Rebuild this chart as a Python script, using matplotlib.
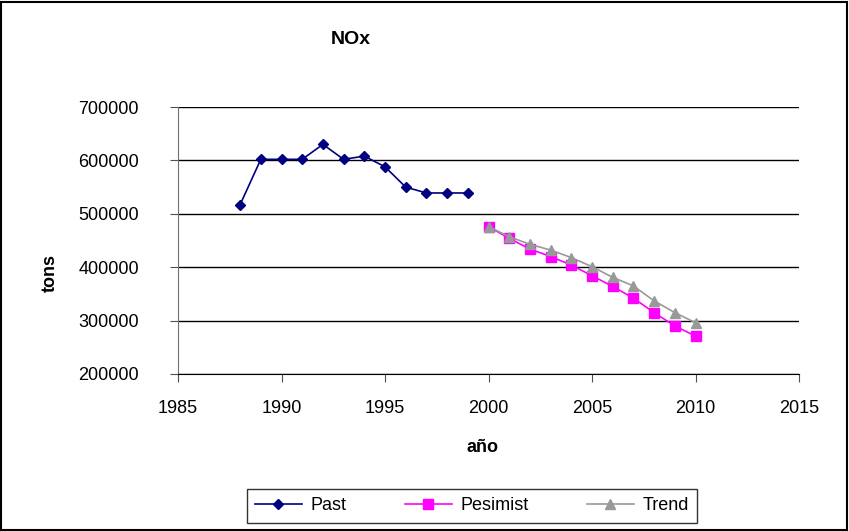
import matplotlib
matplotlib.use("Agg")
import matplotlib.pyplot as plt
from matplotlib.patches import Rectangle

plt.rcParams["font.family"] = ["Liberation Sans", "DejaVu Sans"]

# NOx emissions, historical and projected (tons)
past_years = [1988, 1989, 1990, 1991, 1992, 1993, 1994, 1995, 1996, 1997, 1998, 1999]
past_tons = [517000, 602000, 602000, 602000, 630000, 602000, 608000, 588000,
             550000, 539000, 539000, 539000]

proj_years = [2000, 2001, 2002, 2003, 2004, 2005, 2006, 2007, 2008, 2009, 2010]
pesimist_tons = [476000, 454000, 434000, 420000, 404000, 384000, 364000,
                 342000, 315000, 290000, 271000]
trend_tons = [476000, 457000, 443000, 432000, 418000, 401000, 381000,
              365000, 337000, 315000, 296000]

fig = plt.figure(figsize=(8.49, 5.31), dpi=100)
W, H = 849, 531
ax = fig.add_axes([178 / W, 1 - 374 / H, (799 - 178) / W, (374 - 107) / H])

ax.plot(past_years, past_tons, color="#000080", lw=1.2, marker="D", ms=5.5,
        label="Past")
ax.plot(proj_years, pesimist_tons, color="#FF00FF", lw=1.2, marker="s", ms=7,
        label="Pesimist")
ax.plot(proj_years, trend_tons, color="#999999", lw=1.2, marker="^", ms=7.5,
        label="Trend")

ax.set_xlim(1985, 2015)
ax.set_ylim(200000, 700000)
ax.set_xticks(range(1985, 2016, 5))
ax.set_yticks(range(200000, 700001, 100000))
ax.yaxis.grid(True, color="black", lw=1)
ax.set_axisbelow(True)
for side in ("top", "right"):
    ax.spines[side].set_visible(False)
ax.spines["left"].set_color("#707070")
ax.spines["bottom"].set_color("black")
ax.tick_params(direction="out", length=6, labelsize=13, color="#505050")
ax.tick_params(axis="y", pad=22)
ax.tick_params(axis="x", pad=13)

fig.text(351 / W, 1 - 40 / H, "NOx", fontsize=14, fontweight="bold",
         ha="center", va="center")
fig.text(50 / W, 1 - 273 / H, "tons", fontsize=13, fontweight="bold",
         ha="center", va="center", rotation=90)
fig.text(482 / W, 1 - 447 / H, "año", fontsize=13, fontweight="bold",
         ha="center", va="center")

leg = fig.legend(loc="center", bbox_to_anchor=(472 / W, 1 - 506 / H), ncol=3,
                 fontsize=13, frameon=True, fancybox=False, edgecolor="black",
                 handlelength=2.6, columnspacing=3.2, borderpad=0.45,
                 handletextpad=0.5)
leg.get_frame().set_linewidth(1)

# outer chart border
fig.patches.append(Rectangle((1 / W, 1 / H), 1 - 3 / W, 1 - 3 / H,
                             transform=fig.transFigure, fill=False,
                             edgecolor="black", lw=1.5))

fig.savefig("out.png", dpi=100)
